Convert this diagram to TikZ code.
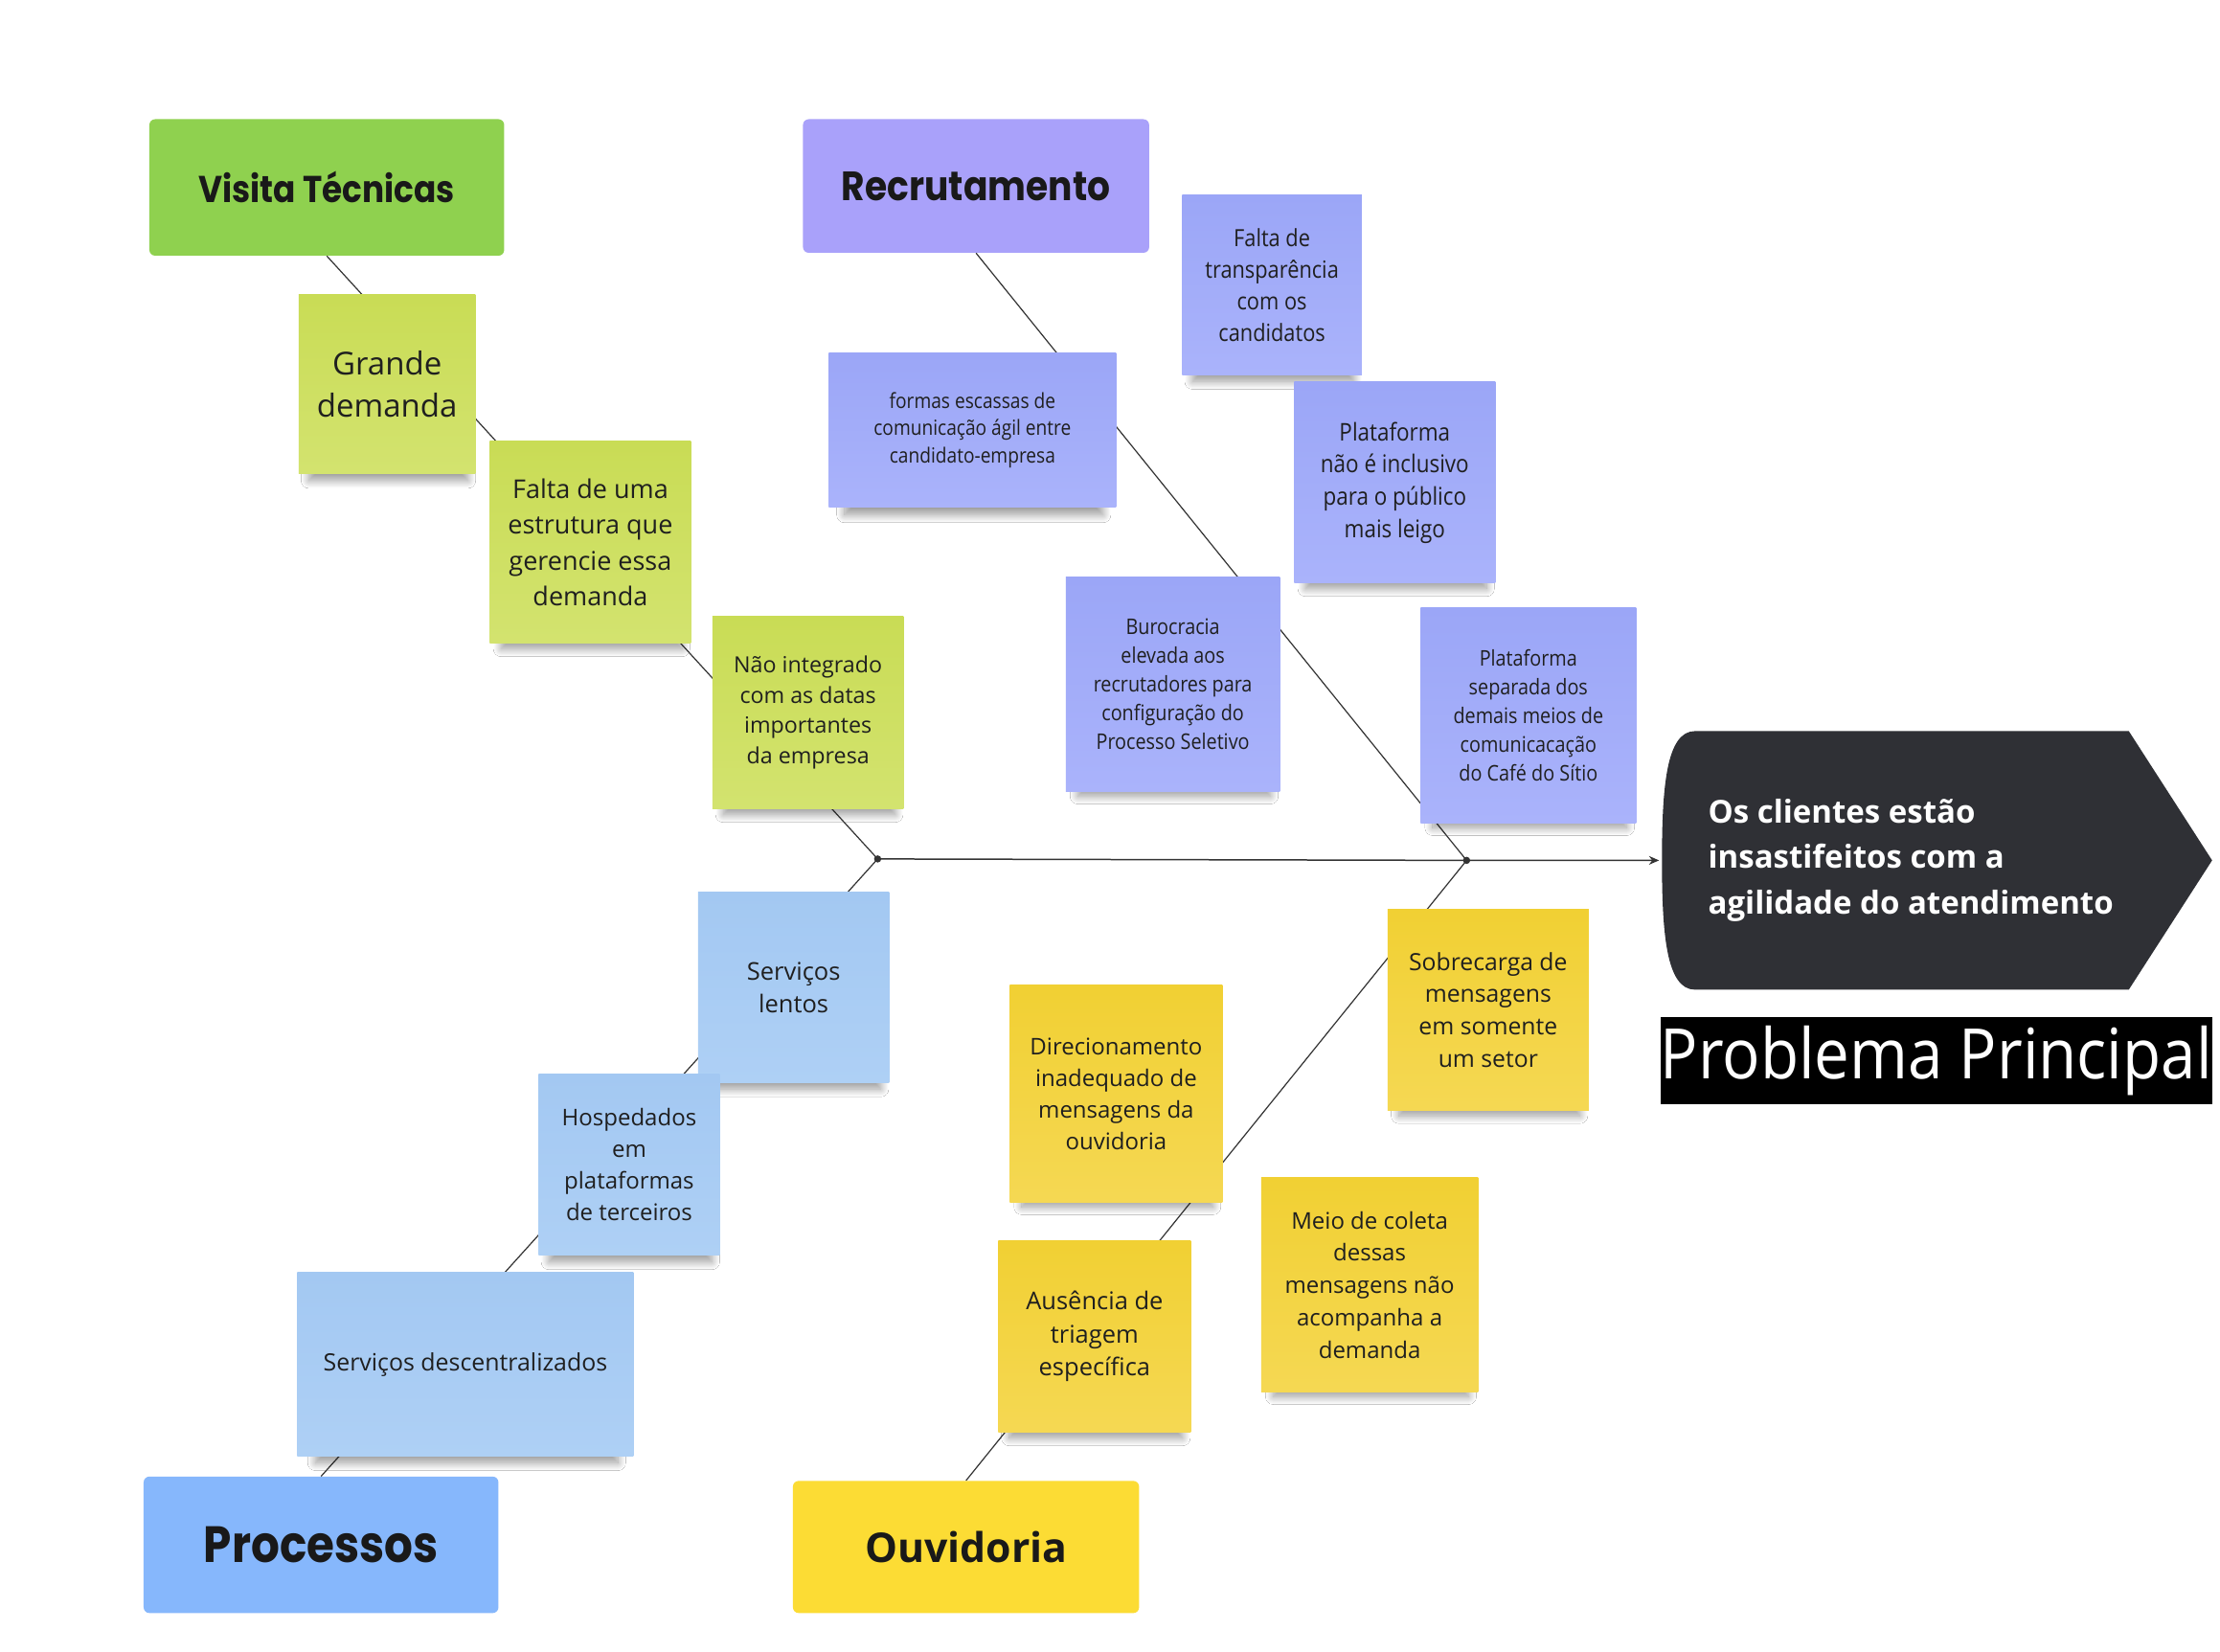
\documentclass[tikz,border=0pt]{standalone}
\usepackage{fontspec}
\setmainfont{Open Sans}
\newfontfamily\condfont{Open Sans}[FakeStretch=0.88]
\newfontfamily\probfont{Open Sans}[FakeStretch=0.9]
\newfontfamily\headfont{Poppins}[FakeStretch=0.88]
\usetikzlibrary{shadows.blur,arrows.meta,backgrounds}
\definecolor{visitagreen}{HTML}{8FD14F}
\definecolor{limetop}{HTML}{C9DC55}
\definecolor{limebot}{HTML}{D3E36F}
\definecolor{recrpurple}{HTML}{A9A1FA}
\definecolor{peritop}{HTML}{9BA6F7}
\definecolor{peribot}{HTML}{AAB3FB}
\definecolor{bluetop}{HTML}{A3C8F2}
\definecolor{bluebot}{HTML}{AED0F5}
\definecolor{procblue}{HTML}{86B7FC}
\definecolor{yeltop}{HTML}{F1D033}
\definecolor{yelbot}{HTML}{F5D853}
\definecolor{ouvyellow}{HTML}{FCDC34}
\definecolor{headdark}{HTML}{2F3035}
\definecolor{boneline}{HTML}{333333}
\newcommand{\fsz}[2]{\fontsize{#1}{#2}\selectfont}
\begin{document}
\begin{tikzpicture}[x=1pt,y=-1pt,
  sticky/.style={rectangle, inner sep=0pt, align=center, text=black!88,
    blur shadow={shadow xshift=1pt, shadow yshift=-12pt, shadow scale=0.9,
      shadow opacity=40, shadow blur radius=6pt, shadow blur steps=20}},
  lime/.style={sticky, top color=limetop, bottom color=limebot},
  peri/.style={sticky, top color=peritop, bottom color=peribot},
  lblue/.style={sticky, top color=bluetop, bottom color=bluebot},
  yel/.style={sticky, top color=yeltop, bottom color=yelbot},
  header/.style={rectangle, rounded corners=4pt, inner sep=0pt, align=center, text=black!90},
  bone/.style={draw=boneline, line width=0.8pt},
  jdot/.style={circle, fill=boneline, inner sep=0pt, minimum size=5pt}
]
\useasboundingbox (0,0) rectangle (1545.5,1150);

% headers
\node[header, fill=visitagreen, minimum width=247pt, minimum height=95pt,
  font=\headfont\bfseries\fsz{26}{30}] (visita) at (227.5,130.5) {Visita Técnicas};
\node[header, fill=recrpurple, minimum width=241pt, minimum height=93pt,
  font=\headfont\bfseries\fsz{28.5}{32}] (recr) at (679.5,129.5) {Recrutamento};
\node[header, fill=procblue, minimum width=247pt, minimum height=95pt,
  font=\headfont\bfseries\fsz{35.5}{40}] (proc) at (223.5,1075.5) {Processos};
\node[header, fill=ouvyellow, minimum width=241pt, minimum height=92pt,
  font=\bfseries\fsz{28.5}{32}] (ouv) at (672.5,1077) {Ouvidoria};

% Visita Tecnicas
\node[lime, minimum width=123pt, minimum height=125pt, font=\fsz{22}{29}] (grande) at (269.5,267.5)
  {Grande\\demanda};
\node[lime, minimum width=140pt, minimum height=141pt, font=\fsz{18}{25}] (falta) at (411,377.5)
  {Falta de uma\\estrutura que\\gerencie essa\\demanda};
\node[lime, minimum width=133pt, minimum height=134pt, font=\fsz{15.5}{21}] (naoint) at (562.5,496)
  {Não integrado\\com as datas\\importantes\\da empresa};

% Recrutamento
\node[peri, minimum width=200pt, minimum height=107pt, font=\condfont\fsz{14.5}{19}] (formas) at (677,299.5)
  {formas escassas de\\comunicação ágil entre\\candidato-empresa};
\node[peri, minimum width=125pt, minimum height=125pt, font=\condfont\fsz{16.5}{22}] (transp) at (885.5,198.5)
  {Falta de\\transparência\\com os\\candidatos};
\node[peri, minimum width=140pt, minimum height=140pt, font=\condfont\fsz{17}{22.5}] (inclus) at (971,336)
  {Plataforma\\não é inclusivo\\para o público\\mais leigo};
\node[peri, minimum width=149pt, minimum height=149pt, font=\condfont\fsz{15}{20}] (buro) at (816.5,476.5)
  {Burocracia\\elevada aos\\recrutadores para\\configuração do\\Processo Seletivo};
\node[peri, minimum width=150pt, minimum height=150pt, font=\condfont\fsz{15}{20}] (separ) at (1064,498)
  {Plataforma\\separada dos\\demais meios de\\comunicacação\\do Café do Sítio};

% Processos
\node[lblue, minimum width=133pt, minimum height=133pt, font=\fsz{17}{23}] (lentos) at (552.5,687.5)
  {Serviços\\lentos};
\node[lblue, minimum width=126pt, minimum height=126pt, font=\fsz{16}{22}] (hosp) at (438,811)
  {Hospedados\\em\\plataformas\\de terceiros};
\node[lblue, minimum width=234pt, minimum height=128pt, font=\fsz{16.6}{22}] (descent) at (324,950)
  {Serviços descentralizados};

% Ouvidoria
\node[yel, minimum width=140pt, minimum height=140pt, font=\fsz{16.5}{22.5}] (sobre) at (1036,703)
  {Sobrecarga de\\mensagens\\em somente\\um setor};
\node[yel, minimum width=148pt, minimum height=151pt, font=\fsz{16}{22}] (direc) at (777,761.5)
  {Direcionamento\\inadequado de\\mensagens da\\ouvidoria};
\node[yel, minimum width=134pt, minimum height=133pt, font=\fsz{17}{23}] (ausen) at (762,930.5)
  {Ausência de\\triagem\\específica};
\node[yel, minimum width=151pt, minimum height=149pt, font=\fsz{16}{22.5}] (meio) at (953.5,894.5)
  {Meio de coleta\\dessas\\mensagens não\\acompanha a\\demanda};

% head
\fill[headdark] (1482,509) -- (1540,599) -- (1482,689) -- (1180,689)
  .. controls (1160,689) and (1157,650) .. (1157,599)
  .. controls (1157,548) and (1160,509) .. (1180,509) -- cycle;
\node[anchor=west, align=left, text=white, inner sep=0pt, font=\bfseries\fsz{22}{31.5}] (head) at (1189,599)
  {Os clientes estão\\insastifeitos com a\\agilidade do atendimento};
\coordinate (headin) at (1155,599);

\node[fill=black, text=white, inner sep=0pt, minimum width=384pt, minimum height=61pt,
  font=\probfont\fsz{48.5}{52}] (prob) at (1348,738.5) {Problema Principal};

% junctions
\node[jdot] (j1) at (611,598) {};
\node[jdot] (j2) at (1021,599) {};

\begin{scope}[on background layer]
  \fill[white] (0,0) rectangle (1545.5,1150);
  \draw[bone] (visita.south) -- (j1.center);
  \draw[bone] (recr.south) -- (j2.center);
  \draw[bone] (proc.north) -- (j1.center);
  \draw[bone] (ouv.north) -- (j2.center);
  \draw[bone, line width=1pt, -{Stealth[length=7pt,width=6pt]}] (j1.center) -- (j2.center) -- (headin);
\end{scope}
\end{tikzpicture}
\end{document}
